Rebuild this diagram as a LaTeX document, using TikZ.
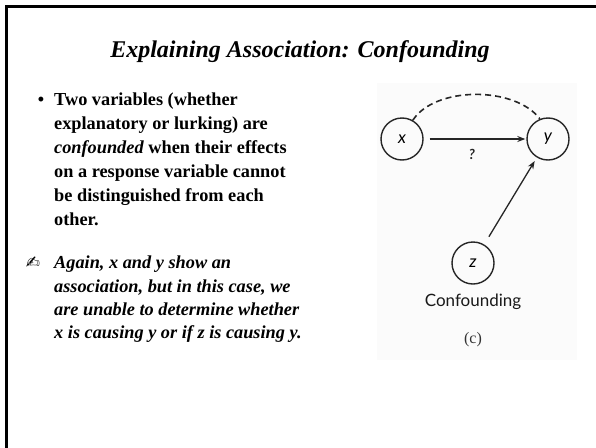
\documentclass[tikz,border=0pt]{standalone}
\usepackage{fontspec}
\setmainfont{Liberation Serif}
\newfontfamily\handfont{Lato}
\newfontfamily\symfont{DejaVu Sans}
\usetikzlibrary{arrows.meta}
\tikzset{
  frameline/.style={line width=3pt, black},
  titletext/.style={anchor=base, font=\fontsize{24}{29}\selectfont\bfseries\itshape},
  bodyline/.style={anchor=base west, inner sep=0pt, font=\fontsize{18.3}{22}\selectfont\bfseries},
  bodyital/.style={bodyline, font=\fontsize{18.3}{22}\selectfont\bfseries\itshape},
  varnode/.style={circle, draw=black!85, line width=1.4pt, minimum size=42pt, inner sep=0pt, font=\handfont\itshape\fontsize{17}{20}\selectfont},
  conn/.style={line width=1.3pt, black!85, -{Stealth[length=8pt,width=6pt]}},
}
\begin{document}
\begin{tikzpicture}[x=1pt,y=-1pt]
\useasboundingbox (0,0) rectangle (596,447);
\fill[white] (0,0) rectangle (596,447);
\draw[frameline] (6,448) -- (6,6) -- (597,6);

\node[titletext] (title) at (300,57) {Explaining Association: Confounding};

% first item
\node[anchor=base, inner sep=0pt, font=\fontsize{18}{22}\selectfont\bfseries] (bul) at (41,105) {\textbullet};
\node[bodyline] (l1) at (54,105) {Two variables (whether};
\node[bodyline] (l2) at (54,129) {explanatory or lurking) are};
\node[bodyline] (l3) at (54,153) {\textit{confounded} when their effects};
\node[bodyline] (l4) at (54,177) {on a response variable cannot};
\node[bodyline] (l5) at (54,201) {be distinguished from each};
\node[bodyline] (l6) at (54,225) {other.};

% second item
\node[anchor=base, inner sep=0pt, font=\symfont\fontsize{17}{20}\selectfont] (hand) at (33,268) {✍};
\node[bodyital] (m1) at (54,268) {Again, x and y show an};
\node[bodyital] (m2) at (54,292) {association, but in this case, we};
\node[bodyital] (m3) at (54,315) {are unable to determine whether};
\node[bodyital] (m4) at (54,338) {x is causing y or if z is causing y.};

% diagram
\fill[black!1.5] (377,83) rectangle (577,360);
\node[varnode] (x) at (402,139) {x};
\node[varnode] (y) at (548,139) {y};
\node[varnode] (z) at (473,263) {z};
\draw[conn, shorten <=6pt, shorten >=1pt] (x) -- node[below=6pt, xshift=-3pt, font=\handfont\bfseries\itshape\fontsize{14}{16}\selectfont] (q) {?} (y);
\draw[line width=1.6pt, black!85, dash pattern=on 6pt off 4pt] (x.60) .. controls (435,86) and (515,86) .. (y.112);
\draw[conn, shorten <=9pt, shorten >=4pt] (z) -- (y);
\node[font=\handfont\fontsize{17}{20}\selectfont, text=black!90] (cap) at (473,302) {Confounding};
\node[font=\fontsize{16}{19}\selectfont, text=black!80] (c) at (473,340) {(c)};
\end{tikzpicture}
\end{document}
